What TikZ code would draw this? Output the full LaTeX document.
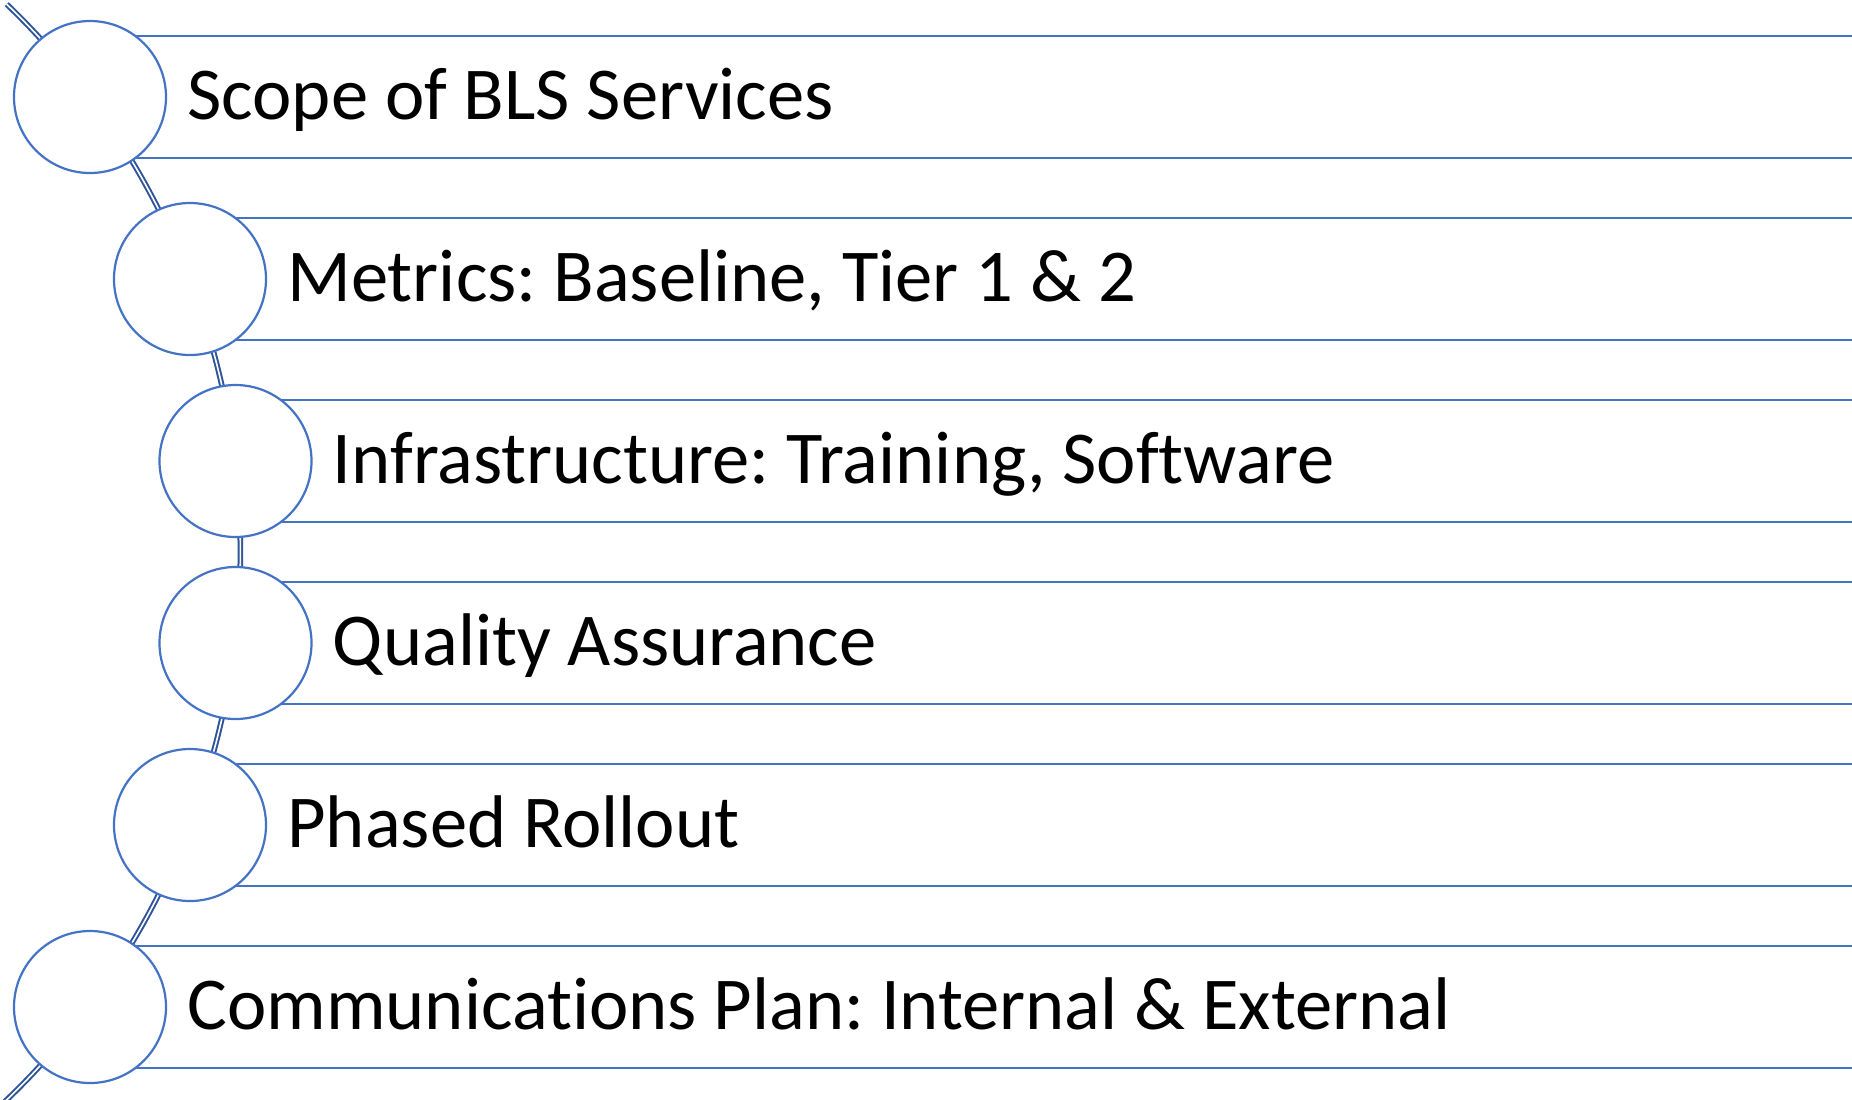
\documentclass[tikz,border=0pt]{standalone}
\usepackage{fontspec}
\setmainfont{Carlito}[Ligatures={NoCommon,NoRequired,NoContextual}]
\definecolor{bandblue}{HTML}{4472C4}
\definecolor{linkblue}{HTML}{2F5597}
\begin{document}
\frenchspacing
\begin{tikzpicture}[x=0.5pt,y=-0.5pt,
  band/.style={draw=bandblue,line width=1.1pt},
  bubble/.style={circle,draw=bandblue,fill=white,line width=1.1pt,minimum size=76pt,inner sep=0pt},
  label/.style={anchor=base west,inner sep=0pt,font=\fontsize{37.3}{44}\selectfont},
  link/.style={draw=linkblue,line width=1pt,double=white,double distance=0.8pt}]
\useasboundingbox (0,0) rectangle (1852,1099);
\clip (0,0) rectangle (1852,1099);
% connector arc (behind everything)
\coordinate (arcc) at (-518.6,552);
\draw[link] (arcc) ++(-46.2:759) arc[start angle=-46.2,end angle=47,radius=759];
% bands
\foreach \cx/\cy in {90/97,190/279,235.5/461,235.5/643,190/825,90/1007}{
  \draw[band] (\cx,\cy-61) -- (1900,\cy-61);
  \draw[band] (\cx,\cy+61) -- (1900,\cy+61);
}
% circles
\node[bubble] (c1) at (90,97) {};
\node[bubble] (c2) at (190,279) {};
\node[bubble] (c3) at (235.5,461) {};
\node[bubble] (c4) at (235.5,643) {};
\node[bubble] (c5) at (190,825) {};
\node[bubble] (c6) at (90,1007) {};
% texts
\node[label] (t1) at (187,119) {Scope of BLS Services};
\node[label] (t2) at (287,301) {Metrics: Baseline, Tier 1 \& 2};
\node[label] (t3) at (332.5,483) {Infrastructure: Training, Software};
\node[label] (t4) at (332.5,665) {Quality Assurance};
\node[label] (t5) at (287,847) {Phased Rollout};
\node[label] (t6) at (187,1029) {Communications Plan: Internal \& External};
\end{tikzpicture}
\end{document}
